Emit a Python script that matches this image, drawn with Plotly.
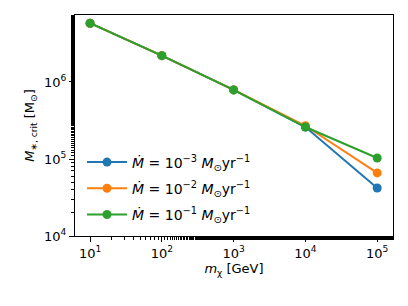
import plotly.graph_objects as go

m_chi = [1e1, 1e2, 1e3, 1e4, 1e5]
m_crit_1e3 = [5.8e6, 2.2e6, 7.9e5, 2.6e5, 4.2e4]
m_crit_1e2 = [5.8e6, 2.2e6, 7.9e5, 2.7e5, 6.6e4]
m_crit_1e1 = [5.8e6, 2.2e6, 7.9e5, 2.6e5, 1.03e5]
series_names = [
    "<i>Ṁ</i> = 10<sup>−3</sup> <i>M</i><sub>⊙</sub>yr<sup>−1</sup>",
    "<i>Ṁ</i> = 10<sup>−2</sup> <i>M</i><sub>⊙</sub>yr<sup>−1</sup>",
    "<i>Ṁ</i> = 10<sup>−1</sup> <i>M</i><sub>⊙</sub>yr<sup>−1</sup>",
]
colors = ["#1f77b4", "#ff7f0e", "#2ca02c"]
x_tickvals = [1e1, 1e2, 1e3, 1e4, 1e5]
x_ticktext = ["10<sup>1</sup>", "10<sup>2</sup>", "10<sup>3</sup>", "10<sup>4</sup>", "10<sup>5</sup>"]
y_tickvals = [1e4, 1e5, 1e6]
y_ticktext = ["10<sup>4</sup>", "10<sup>5</sup>", "10<sup>6</sup>"]

fig = go.Figure()
for i, (ys, name, c) in enumerate(zip([m_crit_1e3, m_crit_1e2, m_crit_1e1], series_names, colors)):
    fig.add_trace(go.Scatter(x=m_chi, y=ys, mode="lines+markers", name=name,
                             legendgroup=f"g{i}",
                             line=dict(color=c, width=2),
                             marker=dict(color=c, size=9)))

font = dict(family="DejaVu Sans", size=13, color="black")
fig.update_layout(
    width=408, height=306,
    margin=dict(l=75, r=15, t=15, b=70),
    paper_bgcolor="white", plot_bgcolor="white",
    font=font,
    showlegend=True,
    legend=dict(x=0.022, y=0.405, xanchor="left", yanchor="top",
                bgcolor="rgba(255,255,255,0)", font=dict(family="DejaVu Sans", size=14),
                tracegroupgap=5, itemwidth=40),
)
fig.update_xaxes(type="log", range=[0.79, 5.22], showgrid=False, zeroline=False,
                 showline=True, linecolor="black", linewidth=1, mirror=True,
                 ticks="outside", ticklen=5, tickcolor="black",
                 tickvals=x_tickvals, ticktext=x_ticktext,
                 minor=dict(ticks="outside", ticklen=3, tickcolor="black", showgrid=False),
                 title=dict(text="<i>m</i><sub>χ</sub> [GeV]", font=font, standoff=4))
fig.update_yaxes(type="log", range=[4, 6.87], showgrid=False, zeroline=False,
                 showline=True, linecolor="black", linewidth=1, mirror=True,
                 ticks="outside", ticklen=5, tickcolor="black",
                 tickvals=y_tickvals, ticktext=y_ticktext,
                 minor=dict(ticks="outside", ticklen=3, tickcolor="black", showgrid=False),
                 title=dict(text="<i>M</i><sub>∗, crit</sub> [M<sub>⊙</sub>]", font=font, standoff=6))

fig.write_html("out.html", config={"displayModeBar": False},
               post_script="document.body.style.margin='0';")
